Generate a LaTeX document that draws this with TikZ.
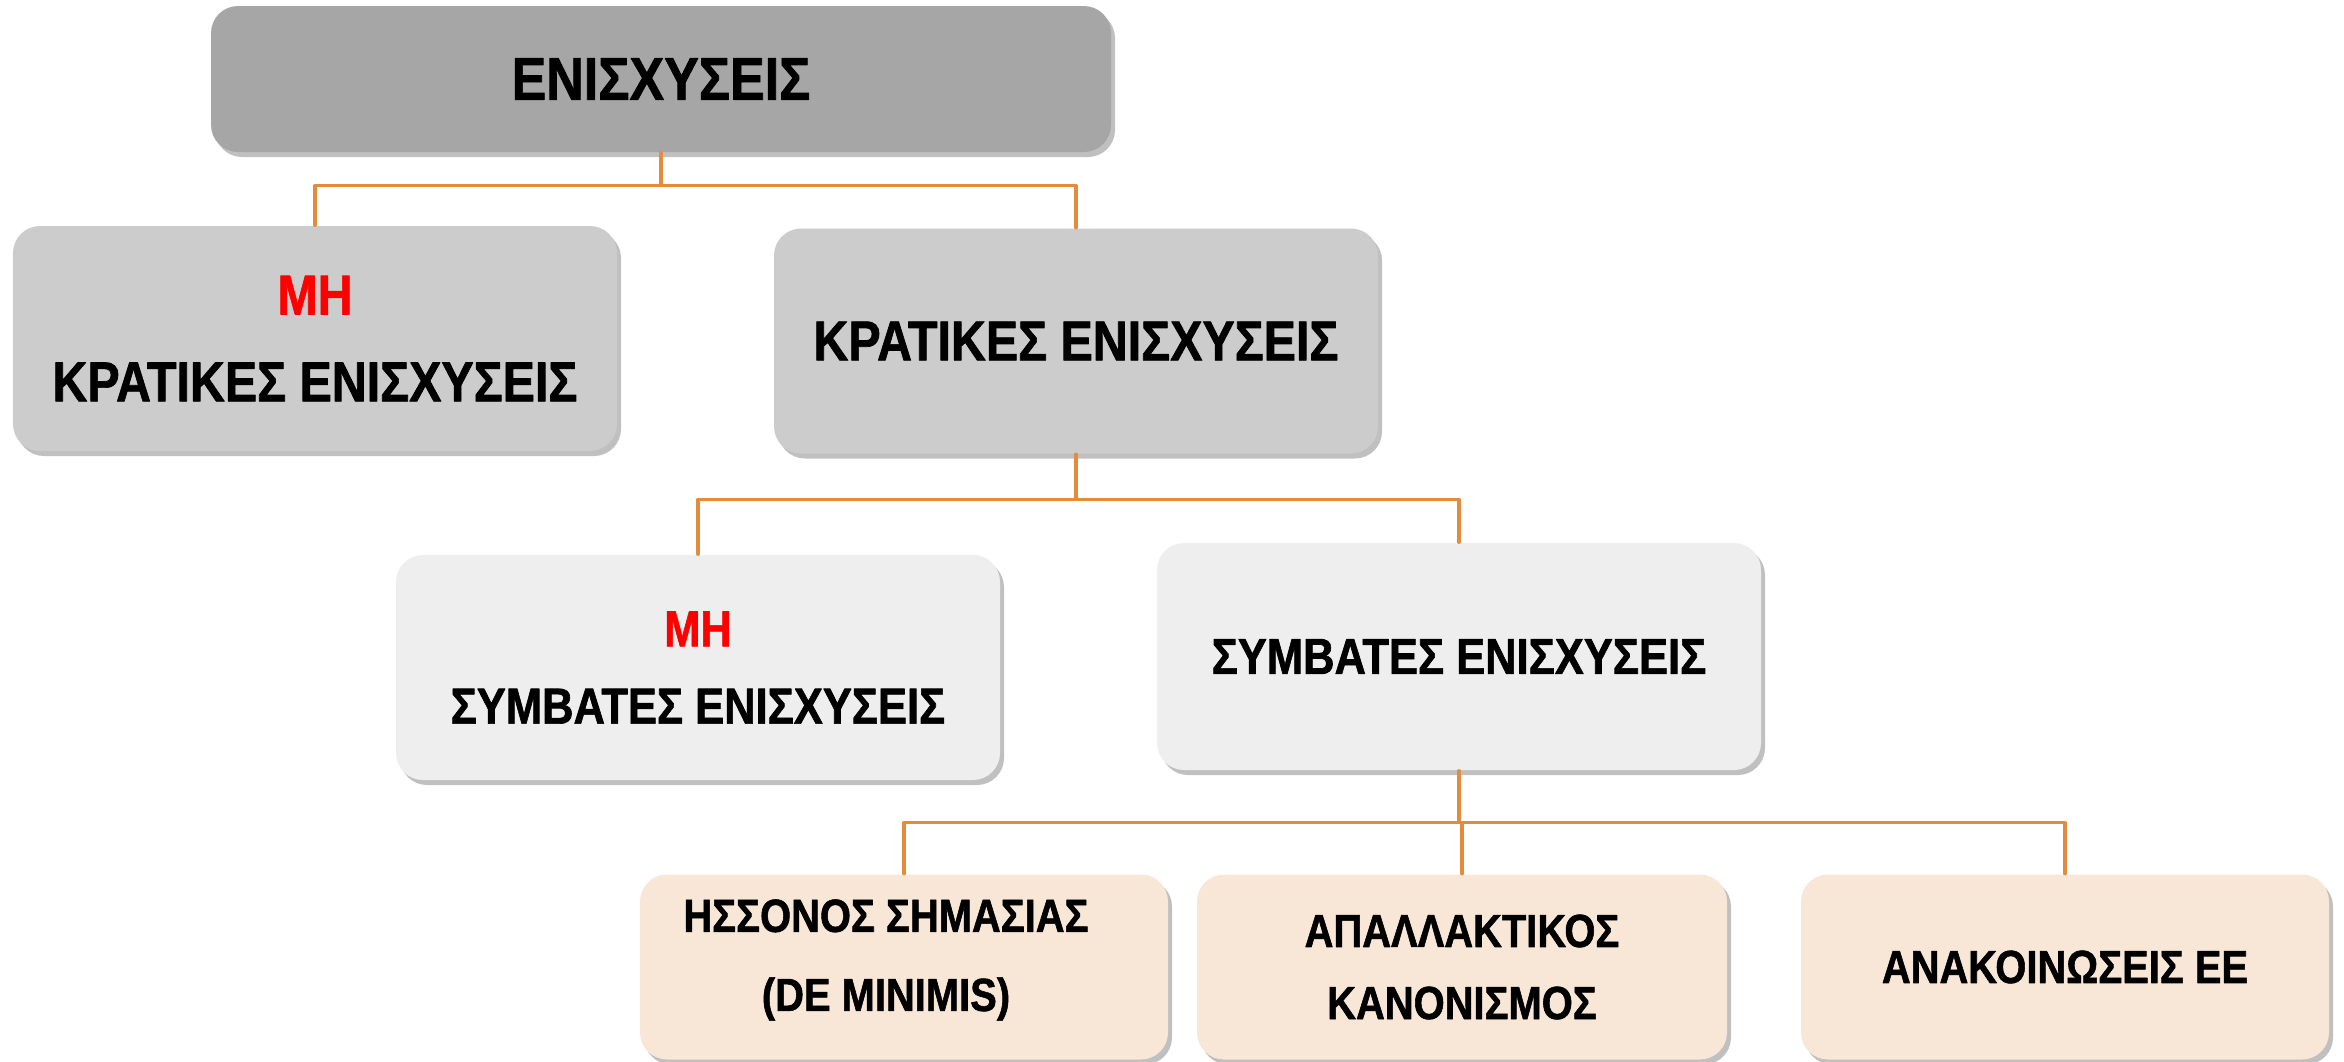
\documentclass[tikz,border=0pt]{standalone}
\usepackage{fontspec}
\setmainfont{Liberation Sans}[FakeStretch=0.86,BoldFeatures={FakeBold=1.2}]
\usetikzlibrary{shadows}
\definecolor{darkfill}{HTML}{A6A6A6}
\definecolor{midfill}{HTML}{CCCCCC}
\definecolor{lightfill}{HTML}{EEEEEE}
\definecolor{peachfill}{HTML}{F8E6D7}
\definecolor{linkorange}{HTML}{E48B3C}
\begin{document}
\begin{tikzpicture}[line join=round,line cap=round,
  box/.style={rounded corners=0.27cm,align=center,inner sep=0pt,
    drop shadow={shadow xshift=0.04cm,shadow yshift=-0.05cm,fill=black!55,opacity=0.45}},
  bigbox/.style={box,minimum width=6.04cm,minimum height=2.25cm},
  smallbox/.style={box,fill=peachfill,minimum width=5.28cm,minimum height=1.85cm,
    font=\fontsize{13.2}{22.5}\selectfont\bfseries},
  link/.style={draw=linkorange,line width=0.9pt}]
\useasboundingbox (0,0) rectangle (23.44,-10.61);
\node[box,fill=darkfill,minimum width=9cm,minimum height=1.46cm,
  font=\fontsize{17.2}{20}\selectfont\bfseries] (enis) at (6.61,-0.79) {ΕΝΙΣΧΥΣΕΙΣ};
\node[bigbox,fill=midfill,font=\fontsize{16}{24.7}\selectfont\bfseries] (mhkrat) at (3.15,-3.385)
  {\textcolor{red}{ΜΗ}\\ΚΡΑΤΙΚΕΣ ΕΝΙΣΧΥΣΕΙΣ};
\node[bigbox,fill=midfill,font=\fontsize{16}{24.7}\selectfont\bfseries] (krat) at (10.76,-3.41)
  {ΚΡΑΤΙΚΕΣ ΕΝΙΣΧΥΣΕΙΣ};
\node[bigbox,fill=lightfill,font=\fontsize{14.4}{22}\selectfont\bfseries] (mhsymb) at (6.98,-6.675)
  {\textcolor{red}{ΜΗ}\\ΣΥΜΒΑΤΕΣ ΕΝΙΣΧΥΣΕΙΣ};
\node[bigbox,fill=lightfill,minimum height=2.27cm,font=\fontsize{14.4}{22}\selectfont\bfseries] (symb) at (14.59,-6.565)
  {ΣΥΜΒΑΤΕΣ ΕΝΙΣΧΥΣΕΙΣ};
\node[smallbox] (minimis) at (9.04,-9.67) {};
\node[align=center,inner sep=0pt,font=\fontsize{13.2}{22.5}\selectfont\bfseries] (minimistext)
  at ([xshift=-0.18cm,yshift=0.07cm]minimis.center) {ΗΣΣΟΝΟΣ ΣΗΜΑΣΙΑΣ\\(DE MINIMIS)};
\node[smallbox,minimum width=5.30cm,font=\fontsize{13.2}{20.5}\selectfont\bfseries] (apal) at (14.62,-9.67) {ΑΠΑΛΛΑΚΤΙΚΟΣ\\ΚΑΝΟΝΙΣΜΟΣ};
\node[smallbox] (anak) at (20.65,-9.67) {ΑΝΑΚΟΙΝΩΣΕΙΣ ΕΕ};
\draw[link] (enis.south) -- ++(0,-0.33) coordinate (j1) -| (mhkrat.north);
\draw[link] (j1) -| (krat.north);
\draw[link] (krat.south) -- ++(0,-0.45) coordinate (j2) -| (mhsymb.north);
\draw[link] (j2) -| (symb.north);
\draw[link] (symb.south) -- ++(0,-0.52) coordinate (j3) -| (minimis.north);
\draw[link] (j3) -| (apal.north);
\draw[link] (j3) -| (anak.north);
\end{tikzpicture}
\end{document}
